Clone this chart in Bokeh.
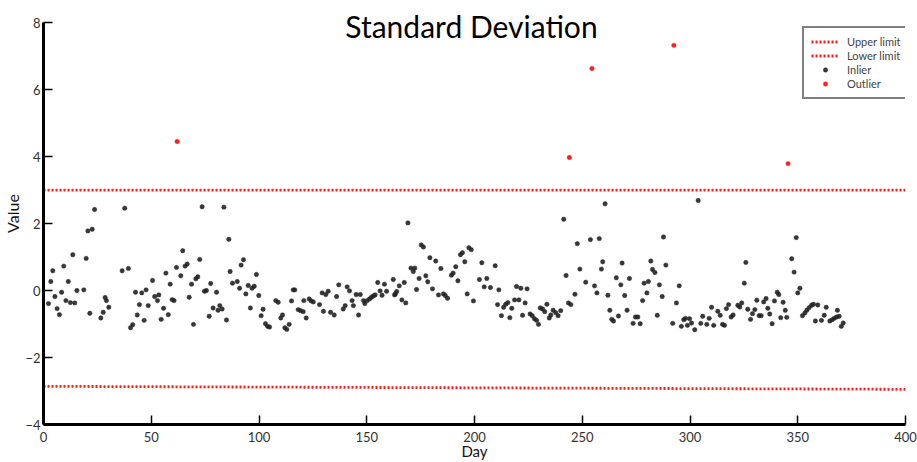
from bokeh.plotting import figure
from bokeh.models import FixedTicker, Label, Legend, LegendItem
from bokeh.embed import file_html
from bokeh.resources import INLINE

inlier_day = [2.3, 3.4, 4.3, 5.3, 6.3, 7.4, 8.4, 9.4, 10.4, 11.5, 12.5, 13.6, 14.5, 15.5, 18.7, 19.8, 20.6, 21.5,
              22.6, 23.7, 26.6, 27.7, 28.6, 29.2, 30.3, 36.5, 37.7, 39.4, 40.4, 41.4, 42.7, 43.5, 44.5, 45.6, 46.7,
              47.6, 48.6, 50.6, 51.6, 52.9, 53.5, 54.6, 55.7, 56.8, 57.9, 58.8, 59.7, 60.6, 61.7, 63.7, 64.6, 65.7,
              66.7, 67.6, 68.7, 69.6, 70.7, 71.6, 72.5, 73.6, 74.7, 75.6, 76.9, 77.6, 78.7, 80.3, 81.0, 81.8, 82.9,
              83.7, 84.9, 86.0, 86.6, 87.7, 89.9, 91.0, 91.7, 92.8, 93.9, 95.0, 96.0, 96.8, 97.8, 98.8, 99.9, 101.0,
              101.9, 103.0, 104.0, 104.9, 107.8, 108.9, 110.1, 110.9, 112.0, 112.9, 114.0, 115.1, 115.9, 116.6,
              118.2, 119.3, 120.5, 120.8, 121.9, 123.3, 124.2, 125.2, 128.1, 129.3, 129.9, 131.0, 132.1, 133.2,
              134.9, 136.0, 137.0, 139.1, 140.0, 140.9, 142.0, 143.2, 143.8, 145.1, 146.2, 147.0, 148.5, 149.1,
              150.2, 151.3, 152.2, 153.1, 153.9, 155.1, 156.2, 157.1, 158.2, 159.2, 162.3, 162.9, 163.3, 163.9,
              165.1, 166.3, 167.4, 168.1, 169.1, 170.5, 171.6, 172.3, 173.1, 174.3, 175.3, 176.3, 177.4, 178.3,
              179.3, 180.5, 182.0, 183.3, 184.4, 185.6, 186.4, 187.5, 189.3, 190.1, 191.3, 192.3, 193.5, 194.4,
              195.5, 196.6, 197.4, 198.5, 199.5, 202.3, 203.4, 204.5, 205.7, 207.4, 209.6, 210.7, 211.3, 212.5,
              213.5, 214.5, 215.5, 216.4, 217.3, 218.6, 219.5, 220.6, 221.5, 222.3, 223.5, 224.4, 225.8, 226.8,
              227.8, 228.8, 229.7, 230.5, 231.6, 232.6, 233.6, 234.7, 235.4, 236.5, 237.7, 238.8, 240.0, 241.4,
              242.5, 243.6, 244.7, 246.6, 247.7, 248.9, 251.6, 253.8, 255.7, 256.8, 257.9, 258.9, 259.5, 260.6,
              261.9, 262.8, 263.7, 264.5, 265.8, 266.8, 267.9, 268.5, 269.7, 270.8, 271.9, 273.6, 274.7, 275.8,
              276.9, 278.0, 278.7, 280.0, 280.7, 281.8, 282.6, 283.7, 284.8, 285.8, 287.1, 287.7, 288.8, 292.0,
              293.7, 295.0, 296.0, 297.1, 297.9, 298.8, 299.8, 300.7, 302.2, 303.8, 305.0, 305.9, 307.8, 308.9,
              310.0, 311.0, 312.9, 314.0, 315.1, 316.0, 316.9, 317.9, 319.1, 320.0, 322.2, 323.1, 324.0, 325.2,
              325.9, 326.8, 328.1, 329.0, 330.1, 331.0, 332.1, 333.0, 334.2, 335.3, 336.1, 337.0, 338.1, 339.2,
              340.5, 341.2, 342.1, 343.2, 344.2, 344.9, 347.2, 348.3, 349.3, 350.0, 351.0, 352.2, 353.3, 354.2,
              355.3, 356.4, 357.3, 358.2, 359.3, 361.0, 362.3, 363.2, 364.9, 366.0, 366.9, 368.0, 368.4, 369.2,
              370.2, 371.1]
inlier_value = [-0.39, 0.27, 0.59, -0.18, -0.54, -0.72, -0.05, 0.73, -0.30, 0.27, -0.36, 1.07, -0.37, 0.0, 0.02,
                0.96, 1.78, -0.68, 1.83, 2.42, -0.82, -0.65, -0.21, -0.30, -0.50, 0.59, 2.46, 0.66, -1.11, -1.02,
                -0.05, -0.73, -0.42, -0.07, -0.89, 0.02, -0.45, 0.30, -0.18, -0.30, -0.13, -0.86, -0.53, 0.52,
                -0.72, 0.19, -0.27, -0.30, 0.69, 0.44, 1.19, 0.73, 0.79, -0.20, 0.19, -1.01, 0.35, 0.41, 0.93,
                2.50, -0.02, 0.0, -0.77, 0.21, -0.52, -0.05, -0.59, -0.45, -0.55, 2.49, -0.88, 1.53, 0.57, 0.22,
                0.27, 0.07, 0.76, 0.92, -0.10, 0.15, -0.52, 0.07, 0.13, 0.48, -0.15, -0.75, -0.56, -0.99, -1.07,
                -1.09, -0.30, -0.35, -0.82, -0.73, -1.11, -1.16, -1.01, -0.31, 0.02, 0.02, -0.57, -0.60, -0.63,
                -0.30, -0.82, -0.25, -0.31, -0.34, -0.42, -0.07, -0.62, -0.12, -0.02, -0.65, -0.73, -0.18, 0.17,
                -0.55, -0.45, 0.11, -0.01, -0.30, -0.45, -0.12, -0.73, -0.12, -0.30, -0.39, -0.30, -0.25, -0.20,
                -0.16, -0.13, 0.24, -0.01, -0.14, 0.19, -0.02, 0.33, -0.13, -0.10, -0.03, 0.14, -0.28, 0.24, -0.37,
                2.02, 0.67, 0.57, 0.67, 0.03, 0.36, 1.36, 1.30, 0.44, 0.26, 0.98, 0.05, 0.88, -0.13, 0.66, -0.10,
                -0.15, -0.23, 0.46, 0.52, 0.71, 0.29, 1.07, 1.13, 0.86, -0.10, 1.28, 1.22, -0.31, 0.33, 0.83, 0.11,
                0.36, 0.09, 0.74, -0.42, 0.02, -0.75, -0.50, -0.41, -0.36, -0.81, -0.53, -0.28, 0.12, -0.28, 0.07,
                -0.74, -0.37, 0.05, -0.70, -0.75, -0.84, -0.89, -1.01, -0.52, -0.55, -0.63, -0.41, -0.82, -0.73,
                -0.59, -0.66, -0.75, -0.60, 2.13, 0.45, -0.37, -0.42, -0.11, 1.40, 0.64, 0.25, 1.52, 0.14, -0.07,
                1.55, 0.64, 0.86, 2.59, -0.14, -0.59, -0.86, -0.91, 0.38, -0.76, 0.17, 0.82, -0.15, -0.59, 0.36,
                -0.98, -0.79, -0.79, -0.99, -0.30, 0.22, -0.07, 0.27, 0.88, 0.63, 0.54, -0.74, 0.17, -0.18, 1.60,
                0.76, -0.98, -0.37, 0.14, -1.07, -0.87, -0.83, -1.04, -0.84, -0.97, -1.17, 2.69, -0.98, -0.77,
                -1.01, -0.83, -0.50, -1.04, -0.62, -0.74, -1.01, -1.04, -0.54, -0.42, -0.79, -0.73, -0.44, -0.49,
                -0.37, 0.22, 0.84, -0.56, -0.86, -0.69, -0.57, -0.29, -0.75, -0.75, -0.34, -0.24, -0.53, -0.70,
                -0.99, -0.31, -0.05, -0.12, -0.81, -0.35, -0.59, -0.80, 0.95, 0.55, 1.58, -0.07, 0.07, -0.75,
                -0.67, -0.59, -0.51, -0.44, -0.41, -0.91, -0.43, -0.89, -0.74, -0.50, -0.91, -0.87, -0.83, -0.79,
                -0.59, -0.77, -1.07, -0.97]

outlier_day = [62, 244, 254.5, 292.5, 345.5]
outlier_value = [4.45, 3.97, 6.63, 7.32, 3.79]

limit_day = [0, 400]
upper_limit = [3.0, 3.0]
lower_limit = [-2.86, -2.95]

x_ticks = [0, 50, 100, 150, 200, 250, 300, 350, 400]
y_ticks = [-4, -2, 0, 2, 4, 6, 8]

FONT = "Lato"

p = figure(width=917, height=462, x_range=(0, 400), y_range=(-4, 8.6),
           output_backend="svg", toolbar_location=None,
           min_border_left=43, min_border_right=12, min_border_top=2, min_border_bottom=37)
p.outline_line_color = None
p.xgrid.visible = False
p.ygrid.visible = False
p.background_fill_color = "white"

r_up = p.line(limit_day, upper_limit, line_color="#ff1a1a", line_width=2.8, line_dash="2 2")
r_lo = p.line(limit_day, lower_limit, line_color="#ff1a1a", line_width=2.8, line_dash="2 2")
r_in = p.scatter(inlier_day, inlier_value, size=4.4, fill_color="#222222", line_color="#222222",
                 fill_alpha=0.9, line_alpha=0.45)
r_out = p.scatter(outlier_day, outlier_value, size=4.4, fill_color="#ff2020", line_color="#ff2020",
                  line_alpha=0.5)

for ax, ticks in ((p.xaxis[0], x_ticks), (p.yaxis[0], y_ticks)):
    ax.ticker = FixedTicker(ticks=ticks)
    ax.axis_line_width = 3
    ax.axis_line_color = "black"
    ax.major_tick_in = 9
    ax.major_tick_out = 0
    ax.major_tick_line_width = 1.5
    ax.minor_tick_line_color = None
    ax.major_label_text_font = FONT
    ax.major_label_text_font_size = "13px"
    ax.major_label_text_color = "#333333"
    ax.axis_label_text_font = FONT
    ax.axis_label_text_font_size = "16px"
    ax.axis_label_text_font_style = "normal"
    ax.axis_label_text_color = "#111111"

p.yaxis.bounds = (-4, 8)
p.xaxis.axis_label = "Day"
p.yaxis.axis_label = "Value"
p.xaxis.axis_label_text_font_size = "15px"
p.xaxis.major_label_standoff = 7
p.xaxis.axis_label_standoff = -3
p.yaxis.major_label_standoff = 3
p.yaxis.axis_label_standoff = 0

title = Label(x=198.6, y=7.9, text="Standard Deviation", text_font=FONT, text_font_size="30px",
              text_align="center", text_baseline="middle", text_color="black")
p.add_layout(title)

legend = Legend(items=[LegendItem(label="Upper limit", renderers=[r_up]),
                       LegendItem(label="Lower limit", renderers=[r_lo]),
                       LegendItem(label="Inlier", renderers=[r_in]),
                       LegendItem(label="Outlier", renderers=[r_out])],
                location=(759, 325), margin=0, padding=7, spacing=1, label_standoff=8,
                glyph_width=28, glyph_height=11, label_height=11,
                label_text_font=FONT, label_text_font_size="11px",
                border_line_color="black", border_line_width=2.5,
                background_fill_alpha=1)
p.add_layout(legend)

open("out.html", "w").write(file_html(p, INLINE))
